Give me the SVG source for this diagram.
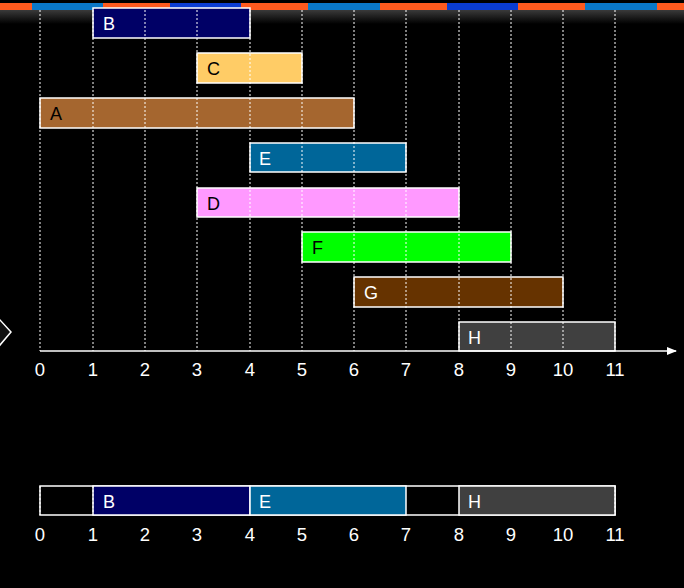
<svg xmlns="http://www.w3.org/2000/svg" width="684" height="588" viewBox="0 0 684 588">
<defs>
<linearGradient id="shade" x1="0" y1="0" x2="0" y2="1">
<stop offset="0" stop-color="#3a3a3a"/>
<stop offset="1" stop-color="#000"/>
</linearGradient>
<marker id="arr" markerWidth="10" markerHeight="8" refX="9" refY="4" orient="auto" markerUnits="userSpaceOnUse">
<path d="M0,0 L10,4 L0,8 Z" fill="#fff"/>
</marker>
</defs>
<style>
.bar{stroke:#fff;stroke-width:1.5}
.grid{stroke:#fff;stroke-width:1;stroke-dasharray:2,2;fill:none}
.lbl{font-family:"Liberation Sans",Arial,sans-serif;font-size:18px}
.num{font-family:"Liberation Sans",Arial,sans-serif;font-size:18.5px;fill:#fff;text-anchor:middle}
</style>
<rect width="684" height="588" fill="#000"/>
<g id="topbar">
<rect x="0" y="10" width="684" height="14" fill="url(#shade)"/>
<rect x="0" y="3" width="684" height="7" fill="#ff5a1e"/>
<rect x="32" y="3" width="71" height="7" fill="#0a78c8"/>
<rect x="170" y="3" width="71" height="7" fill="#0a3cd2"/>
<rect x="308" y="3" width="72" height="7" fill="#0a78c8"/>
<rect x="447" y="3" width="71" height="7" fill="#0a3cd2"/>
<rect x="585" y="3" width="72" height="7" fill="#0a78c8"/>
</g>
<g id="nav">
<polygon points="-12,332 0,320 11,332 0,345" fill="#111" stroke="#fff" stroke-width="1.5"/>
</g>
<g id="task-B"><rect class="bar" x="93" y="8" width="157" height="30" fill="#000066"/><text class="lbl" x="103" y="30" fill="#fff">B</text></g>
<g id="task-C"><rect class="bar" x="197" y="53" width="105" height="30" fill="#ffcc66"/><text class="lbl" x="207" y="75" fill="#000">C</text></g>
<g id="task-A"><rect class="bar" x="40" y="98" width="314" height="30" fill="#a5662f"/><text class="lbl" x="50" y="120" fill="#000">A</text></g>
<g id="task-E"><rect class="bar" x="250" y="143" width="156" height="29" fill="#006699"/><text class="lbl" x="259" y="165" fill="#fff">E</text></g>
<g id="task-D"><rect class="bar" x="197" y="188" width="262" height="29" fill="#ff99ff"/><text class="lbl" x="207" y="210" fill="#000">D</text></g>
<g id="task-F"><rect class="bar" x="302" y="232" width="209" height="30" fill="#00ff00"/><text class="lbl" x="312" y="254" fill="#000">F</text></g>
<g id="task-G"><rect class="bar" x="354" y="277" width="209" height="30" fill="#663300"/><text class="lbl" x="364" y="299" fill="#fff">G</text></g>
<g id="task-H"><rect class="bar" x="459" y="322" width="156" height="29" fill="#404040"/><text class="lbl" x="468" y="344" fill="#fff">H</text></g>
<g id="gridlines">
<path class="grid" d="M40,10V351M93,10V351M145,10V351M197,10V351M250,10V351M302,10V351M354,10V351M406,10V351M459,10V351M511,10V351M563,10V351M615,10V351"/>
</g>
<g id="connectors">
<line x1="40" y1="351" x2="676" y2="351" stroke="#fff" stroke-width="1.5" marker-end="url(#arr)"/>
</g>
<g id="axis-labels">
<text class="num" x="40" y="376">0</text><text class="num" x="93" y="376">1</text><text class="num" x="145" y="376">2</text><text class="num" x="197" y="376">3</text><text class="num" x="250" y="376">4</text><text class="num" x="302" y="376">5</text><text class="num" x="354" y="376">6</text><text class="num" x="406" y="376">7</text><text class="num" x="459" y="376">8</text><text class="num" x="511" y="376">9</text><text class="num" x="563" y="376">10</text><text class="num" x="615" y="376">11</text>
</g>
<g id="schedule">
<rect class="bar" x="40" y="486" width="575" height="29" fill="#000"/>
<rect class="bar" x="93" y="486" width="157" height="29" fill="#000066"/>
<rect class="bar" x="250" y="486" width="156" height="29" fill="#006699"/>
<rect class="bar" x="459" y="486" width="156" height="29" fill="#404040"/>
<path class="grid" d="M40,486V515M93,486V515M615,486V515" stroke="#ccc"/>
<text class="lbl" x="103" y="508" fill="#fff">B</text>
<text class="lbl" x="259" y="508" fill="#fff">E</text>
<text class="lbl" x="468" y="508" fill="#fff">H</text>
</g>
<g id="schedule-labels">
<text class="num" x="40" y="541">0</text><text class="num" x="93" y="541">1</text><text class="num" x="145" y="541">2</text><text class="num" x="197" y="541">3</text><text class="num" x="250" y="541">4</text><text class="num" x="302" y="541">5</text><text class="num" x="354" y="541">6</text><text class="num" x="406" y="541">7</text><text class="num" x="459" y="541">8</text><text class="num" x="511" y="541">9</text><text class="num" x="563" y="541">10</text><text class="num" x="615" y="541">11</text>
</g>
</svg>
